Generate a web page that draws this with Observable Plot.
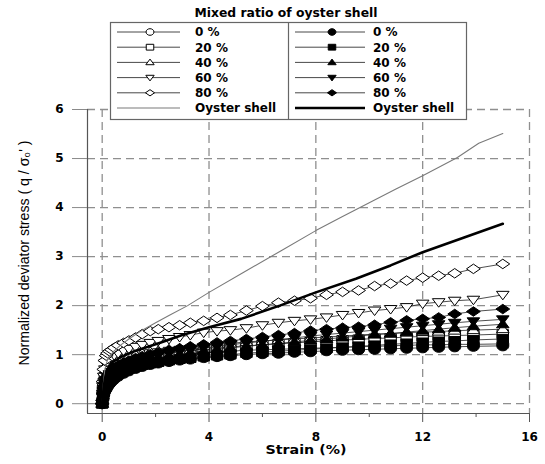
<!DOCTYPE html>
<html>
<head>
<meta charset="utf-8">
<script src="https://cdn.jsdelivr.net/npm/d3@7"></script>
<script src="https://cdn.jsdelivr.net/npm/@observablehq/plot@0.6"></script>
<style>
  html, body { margin: 0; padding: 0; background: #fff; }
  #chart { width: 545px; height: 464px; }
</style>
</head>
<body>
<div id="chart"></div>
<script>
// Strain (%) at which every marker series was recorded
const strain = [0, 0.03, 0.06, 0.1, 0.15, 0.2, 0.27, 0.35, 0.45, 0.6,
  0.8, 1.0, 1.25, 1.5, 1.8, 2.1, 2.5, 2.9, 3.3, 3.8,
  4.3, 4.8, 5.4, 6.0, 6.6, 7.2, 7.8, 8.4, 9.0, 9.6,
  10.2, 10.8, 11.4, 12.0, 12.6, 13.2, 13.9, 15.0];

// Normalized deviator stress, open-symbol set
const open0 = [0, 0.25, 0.4, 0.5, 0.58, 0.63, 0.68, 0.72, 0.76, 0.8,
  0.84, 0.87, 0.9, 0.92, 0.94, 0.96, 0.98, 1.0, 1.02, 1.04,
  1.06, 1.07, 1.09, 1.1, 1.11, 1.12, 1.13, 1.14, 1.15, 1.16,
  1.17, 1.18, 1.19, 1.2, 1.2, 1.21, 1.21, 1.22];
const open20 = [0, 0.28, 0.43, 0.55, 0.63, 0.69, 0.74, 0.78, 0.82, 0.86,
  0.9, 0.93, 0.96, 0.99, 1.01, 1.03, 1.06, 1.08, 1.1, 1.12,
  1.14, 1.16, 1.18, 1.2, 1.22, 1.24, 1.26, 1.28, 1.3, 1.31,
  1.33, 1.34, 1.36, 1.37, 1.38, 1.39, 1.4, 1.42];
const open40 = [0, 0.3, 0.45, 0.58, 0.67, 0.73, 0.78, 0.82, 0.86, 0.9,
  0.94, 0.97, 1.0, 1.03, 1.06, 1.08, 1.11, 1.13, 1.16, 1.18,
  1.21, 1.23, 1.26, 1.28, 1.3, 1.32, 1.34, 1.36, 1.38, 1.4,
  1.42, 1.43, 1.45, 1.46, 1.47, 1.49, 1.5, 1.52];
const open60 = [0, 0.35, 0.55, 0.7, 0.8, 0.86, 0.91, 0.95, 0.99, 1.03,
  1.08, 1.12, 1.16, 1.2, 1.24, 1.28, 1.32, 1.36, 1.4, 1.45,
  1.48, 1.5, 1.54, 1.6, 1.65, 1.69, 1.72, 1.76, 1.81, 1.85,
  1.9, 1.93, 1.97, 2.04, 2.07, 2.1, 2.12, 2.22];
const open80 = [0, 0.45, 0.7, 0.88, 0.98, 1.03, 1.07, 1.1, 1.14, 1.19,
  1.24, 1.29, 1.35, 1.42, 1.48, 1.52, 1.56, 1.6, 1.65, 1.69,
  1.75, 1.81, 1.9, 1.99, 2.06, 2.1, 2.15, 2.22, 2.28, 2.31,
  2.4, 2.45, 2.51, 2.57, 2.61, 2.66, 2.75, 2.85];

// Normalized deviator stress, filled-symbol set
const filled0 = [0, 0.1, 0.18, 0.25, 0.3, 0.35, 0.4, 0.45, 0.5, 0.56,
  0.62, 0.67, 0.72, 0.76, 0.8, 0.83, 0.86, 0.89, 0.91, 0.94,
  0.96, 0.98, 1.0, 1.02, 1.03, 1.05, 1.06, 1.08, 1.09, 1.1,
  1.11, 1.12, 1.13, 1.14, 1.15, 1.16, 1.17, 1.18];
const filled20 = [0, 0.15, 0.24, 0.32, 0.39, 0.44, 0.49, 0.54, 0.58, 0.63,
  0.68, 0.72, 0.76, 0.79, 0.82, 0.85, 0.88, 0.91, 0.93, 0.96,
  0.98, 1.0, 1.03, 1.05, 1.07, 1.09, 1.11, 1.13, 1.15, 1.17,
  1.19, 1.21, 1.23, 1.25, 1.27, 1.28, 1.3, 1.32];
const filled40 = [0, 0.18, 0.28, 0.37, 0.45, 0.5, 0.56, 0.61, 0.66, 0.71,
  0.76, 0.8, 0.84, 0.88, 0.91, 0.94, 0.98, 1.01, 1.04, 1.08,
  1.11, 1.14, 1.17, 1.2, 1.23, 1.26, 1.29, 1.32, 1.35, 1.38,
  1.41, 1.43, 1.46, 1.49, 1.52, 1.55, 1.58, 1.62];
const filled60 = [0, 0.2, 0.3, 0.4, 0.48, 0.54, 0.6, 0.65, 0.7, 0.75,
  0.8, 0.84, 0.88, 0.92, 0.96, 0.99, 1.03, 1.07, 1.1, 1.14,
  1.17, 1.2, 1.24, 1.27, 1.31, 1.34, 1.38, 1.41, 1.44, 1.47,
  1.5, 1.53, 1.56, 1.59, 1.62, 1.65, 1.68, 1.72];
const filled80 = [0, 0.2, 0.32, 0.42, 0.5, 0.56, 0.62, 0.67, 0.72, 0.78,
  0.84, 0.88, 0.93, 0.97, 1.01, 1.05, 1.09, 1.13, 1.17, 1.21,
  1.25, 1.28, 1.32, 1.36, 1.4, 1.44, 1.49, 1.52, 1.55, 1.57,
  1.61, 1.66, 1.7, 1.73, 1.76, 1.83, 1.88, 1.93];

// Pure oyster shell curves (no markers)
const shellOpenStrain = [0, 0.05, 0.1, 0.2, 0.4, 0.7, 1.0, 1.5, 2.0, 2.5, 3.2, 4.0, 5.3, 6.7, 8.0, 9.0, 10.0, 11.0, 12.0, 13.3, 14.1, 15.0];
const shellOpen = [0, 0.45, 0.7, 0.9, 1.05, 1.2, 1.32, 1.5, 1.65, 1.8, 2.0, 2.27, 2.68, 3.12, 3.53, 3.82, 4.1, 4.38, 4.65, 5.02, 5.31, 5.51];
const shellFilledStrain = [0, 0.05, 0.1, 0.2, 0.4, 0.7, 1.2, 2.2, 3.0, 4.0, 5.2, 6.65, 8.0, 9.5, 10.8, 12.0, 13.5, 15.0];
const shellFilled = [0, 0.3, 0.5, 0.7, 0.85, 0.95, 1.07, 1.25, 1.4, 1.56, 1.73, 2.0, 2.27, 2.55, 2.82, 3.09, 3.38, 3.67];

// Labels and ticks
const legendTitle = "Mixed ratio of oyster shell";
const ratioLabels = ["0 %", "20 %", "40 %", "60 %", "80 %"];
const shellLabel = "Oyster shell";
const xLabel = "Strain (%)";
const yLabel = "Normalized deviator stress ( q / \u03c3\u2080' )";
const xTicks = [0, 4, 8, 12, 16];
const xMinorTicks = [2, 6, 10, 14];
const yTicks = [0, 1, 2, 3, 4, 5, 6];

// ---- marker shapes (slightly wider than tall) ----
const K = 0.5523;
const WIDEN = 1.2;
const ellipse = {draw(c, size) {
  const r = Math.sqrt(size / Math.PI), w = r * WIDEN, h = r;
  c.moveTo(w, 0);
  c.bezierCurveTo(w, K * h, K * w, h, 0, h);
  c.bezierCurveTo(-K * w, h, -w, K * h, -w, 0);
  c.bezierCurveTo(-w, -K * h, -K * w, -h, 0, -h);
  c.bezierCurveTo(K * w, -h, w, -K * h, w, 0);
  c.closePath();
}};
const box = {draw(c, size) {
  const r = Math.sqrt(size / Math.PI), w = r * WIDEN * 0.95, h = r * 0.88;
  c.moveTo(-w, -h); c.lineTo(w, -h); c.lineTo(w, h); c.lineTo(-w, h); c.closePath();
}};
const triUp = {draw(c, size) {
  const r = Math.sqrt(size / Math.PI), w = r * WIDEN * 1.05, h = r;
  c.moveTo(0, -h); c.lineTo(w, h * 0.7); c.lineTo(-w, h * 0.7); c.closePath();
}};
const triDown = {draw(c, size) {
  const r = Math.sqrt(size / Math.PI), w = r * WIDEN * 1.05, h = r;
  c.moveTo(0, h); c.lineTo(w, -h * 0.7); c.lineTo(-w, -h * 0.7); c.closePath();
}};
const rhomb = {draw(c, size) {
  const r = Math.sqrt(size / Math.PI), w = r * WIDEN * 1.15, h = r * 0.95;
  c.moveTo(0, -h); c.lineTo(w, 0); c.lineTo(0, h); c.lineTo(-w, 0); c.closePath();
}};
const shapes = [ellipse, box, triUp, triDown, rhomb];

const sets = [
  {series: [open0, open20, open40, open60, open80], fill: "white"},
  {series: [filled0, filled20, filled40, filled60, filled80], fill: "black"}
];

const table = ys => strain.map((s, i) => ({strain: s, stress: ys[i]}));
const shellTable = (xs, ys) => xs.map((s, i) => ({strain: s, stress: ys[i]}));

const seriesMarks = [];
for (const set of sets) {
  set.series.forEach((ys, i) => {
    const data = table(ys);
    seriesMarks.push(Plot.line(data, {x: "strain", y: "stress", stroke: "#222", strokeWidth: 0.8}));
    seriesMarks.push(Plot.dot(data, {x: "strain", y: "stress", r: 5, symbol: shapes[i], fill: set.fill, stroke: "black", strokeWidth: 1}));
  });
}

const xDomain = [-0.55, 16];
const yDomain = [-0.2, 6];
const gridStyle = {stroke: "#8f8f8f", strokeOpacity: 1, strokeWidth: 1.3, strokeDasharray: "8 5"};

const chart = Plot.plot({
  width: 545,
  height: 464,
  marginLeft: 87,
  marginRight: 16,
  marginTop: 109,
  marginBottom: 51,
  style: {fontFamily: "'DejaVu Sans', sans-serif", fontSize: "12px", fontWeight: "bold", background: "white", color: "black"},
  x: {domain: xDomain},
  y: {domain: yDomain},
  marks: [
    Plot.gridX(xTicks, gridStyle),
    Plot.gridY(yTicks, gridStyle),
    Plot.ruleX([xDomain[0]], {stroke: "#555", strokeWidth: 1.2}),
    Plot.ruleY([yDomain[0]], {stroke: "#555", strokeWidth: 1.2}),
    Plot.axisX(xTicks, {tickSize: 9, tickPadding: 10, stroke: "#555", label: null}),
    Plot.axisX(xMinorTicks, {tickSize: 4, tickFormat: () => "", stroke: "#555", label: null}),
    // y ticks (long grey marks) and their labels, drawn separately
    Plot.axisY(yTicks, {tickSize: 15, fill: "none", stroke: "#8a8a8a", label: null}),
    Plot.text(yTicks, {y: d => d, text: d => String(d), frameAnchor: "left", textAnchor: "end", dx: -24}),
    ...seriesMarks,
    Plot.line(shellTable(shellOpenStrain, shellOpen), {x: "strain", y: "stress", stroke: "#7a7a7a", strokeWidth: 1.1}),
    Plot.line(shellTable(shellFilledStrain, shellFilled), {x: "strain", y: "stress", stroke: "black", strokeWidth: 2.6})
  ]
});

document.getElementById("chart").appendChild(chart);

// ---- axis titles ----
const svg = d3.select(chart);
svg.append("text")
  .attr("x", 306).attr("y", 454)
  .attr("text-anchor", "middle")
  .attr("font-size", 12).attr("font-weight", "bold")
  .attr("textLength", 81).attr("lengthAdjust", "spacingAndGlyphs")
  .text(xLabel);
svg.append("text")
  .attr("transform", "translate(29,253) rotate(-90)")
  .attr("text-anchor", "middle")
  .attr("font-family", "'Liberation Sans', Arial, sans-serif")
  .attr("font-size", 14).attr("font-weight", "normal")
  .attr("textLength", 225).attr("lengthAdjust", "spacingAndGlyphs")
  .text(yLabel);

// ---- legend ----
const lg = svg.append("g").attr("text-anchor", "start");
lg.append("text")
  .attr("x", 286).attr("y", 17)
  .attr("text-anchor", "middle")
  .attr("font-size", 12).attr("font-weight", "bold")
  .attr("textLength", 183).attr("lengthAdjust", "spacingAndGlyphs")
  .text(legendTitle);
lg.append("rect")
  .attr("x", 110.5).attr("y", 22.5).attr("width", 356).attr("height", 97)
  .attr("fill", "white").attr("stroke", "#666").attr("stroke-width", 1.2);
lg.append("line")
  .attr("x1", 288.5).attr("x2", 288.5).attr("y1", 22.5).attr("y2", 119.5)
  .attr("stroke", "#666").attr("stroke-width", 1.2);

const rowY = i => 32 + i * 15.2;
const columns = [
  {x1: 117, x2: 180, mx: 150, tx: 195, set: sets[0], shell: {stroke: "#7a7a7a", width: 1.1}},
  {x1: 295, x2: 365, mx: 332, tx: 373, set: sets[1], shell: {stroke: "black", width: 2.6}}
];
const legendSize = Math.PI * 3.3 * 3.3;
for (const col of columns) {
  ratioLabels.forEach((label, i) => {
    const y = rowY(i);
    lg.append("line").attr("x1", col.x1).attr("x2", col.x2).attr("y1", y).attr("y2", y)
      .attr("stroke", "#333").attr("stroke-width", 0.9);
    lg.append("path")
      .attr("transform", `translate(${col.mx},${y})`)
      .attr("d", d3.symbol(shapes[i], legendSize)())
      .attr("fill", col.set.fill).attr("stroke", "black").attr("stroke-width", 1);
    lg.append("text").attr("x", col.tx).attr("y", y).attr("dy", "0.36em")
      .attr("text-anchor", "start")
      .attr("font-size", 12).attr("font-weight", "bold").text(label);
  });
  const y = rowY(5);
  lg.append("line").attr("x1", col.x1).attr("x2", col.x2).attr("y1", y).attr("y2", y)
    .attr("stroke", col.shell.stroke).attr("stroke-width", col.shell.width);
  lg.append("text").attr("x", col.tx).attr("y", y).attr("dy", "0.36em")
    .attr("text-anchor", "start")
    .attr("font-size", 12).attr("font-weight", "bold").text(shellLabel);
}
</script>
</body>
</html>
